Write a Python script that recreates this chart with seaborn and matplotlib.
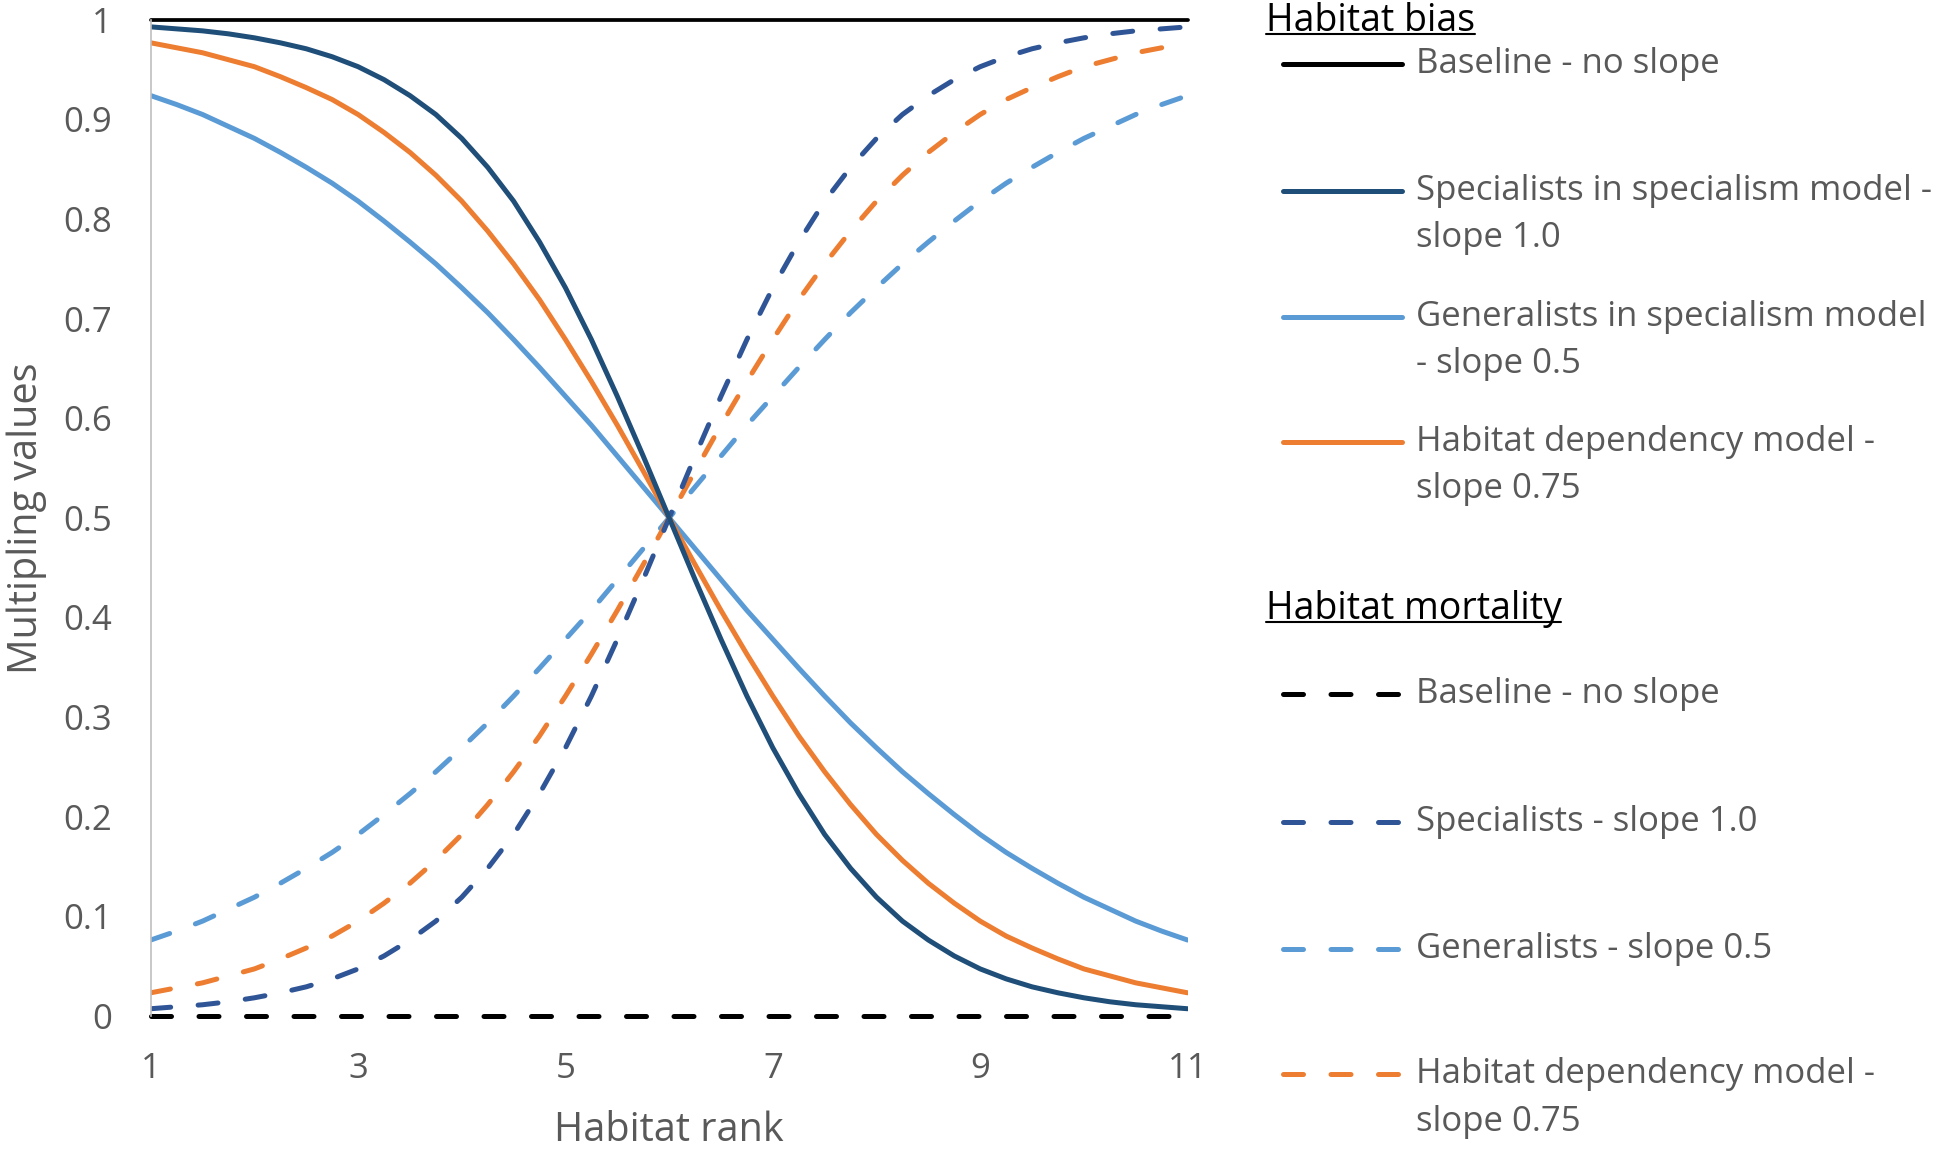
import numpy as np
import pandas as pd
import matplotlib.pyplot as plt
import seaborn as sns
from matplotlib.lines import Line2D

# habitat rank, read at quarter steps so the curves come out smooth
rank = [1, 1.25, 1.5, 1.75, 2, 2.25, 2.5, 2.75, 3, 3.25, 3.5, 3.75, 4, 4.25, 4.5, 4.75,
        5, 5.25, 5.5, 5.75, 6, 6.25, 6.5, 6.75, 7, 7.25, 7.5, 7.75, 8, 8.25, 8.5, 8.75,
        9, 9.25, 9.5, 9.75, 10, 10.25, 10.5, 10.75, 11]

# habitat bias curves
spec_bias = [0.993, 0.991, 0.989, 0.986, 0.982, 0.977, 0.971, 0.963, 0.953, 0.940, 0.924,
             0.905, 0.881, 0.852, 0.818, 0.777, 0.731, 0.679, 0.622, 0.562, 0.5,
             0.438, 0.378, 0.321, 0.269, 0.223, 0.182, 0.148, 0.119, 0.095, 0.076,
             0.060, 0.047, 0.037, 0.029, 0.023, 0.018, 0.014, 0.011, 0.009, 0.007]
gen_bias = [0.924, 0.915, 0.905, 0.893, 0.881, 0.867, 0.852, 0.836, 0.818, 0.798, 0.777,
            0.755, 0.731, 0.706, 0.679, 0.651, 0.622, 0.593, 0.562, 0.531, 0.5,
            0.469, 0.438, 0.407, 0.378, 0.349, 0.321, 0.294, 0.269, 0.245, 0.223,
            0.202, 0.182, 0.164, 0.148, 0.133, 0.119, 0.107, 0.095, 0.085, 0.076]
hd_bias = [0.977, 0.972, 0.967, 0.960, 0.953, 0.943, 0.932, 0.920, 0.905, 0.887, 0.867,
           0.844, 0.818, 0.788, 0.755, 0.719, 0.679, 0.637, 0.593, 0.547, 0.5,
           0.453, 0.407, 0.363, 0.321, 0.281, 0.245, 0.212, 0.182, 0.156, 0.133,
           0.113, 0.095, 0.080, 0.068, 0.057, 0.047, 0.040, 0.033, 0.028, 0.023]

# habitat mortality curves
spec_mort = [0.007, 0.009, 0.011, 0.014, 0.018, 0.023, 0.029, 0.037, 0.047, 0.060, 0.076,
             0.095, 0.119, 0.148, 0.182, 0.223, 0.269, 0.321, 0.378, 0.438, 0.5,
             0.562, 0.622, 0.679, 0.731, 0.777, 0.818, 0.852, 0.881, 0.905, 0.924,
             0.940, 0.953, 0.963, 0.971, 0.977, 0.982, 0.986, 0.989, 0.991, 0.993]
gen_mort = [0.076, 0.085, 0.095, 0.107, 0.119, 0.133, 0.148, 0.164, 0.182, 0.202, 0.223,
            0.245, 0.269, 0.294, 0.321, 0.349, 0.378, 0.407, 0.438, 0.469, 0.5,
            0.531, 0.562, 0.593, 0.622, 0.651, 0.679, 0.706, 0.731, 0.755, 0.777,
            0.798, 0.818, 0.836, 0.852, 0.867, 0.881, 0.893, 0.905, 0.915, 0.924]
hd_mort = [0.023, 0.028, 0.033, 0.040, 0.047, 0.057, 0.068, 0.080, 0.095, 0.113, 0.133,
           0.156, 0.182, 0.212, 0.245, 0.281, 0.321, 0.363, 0.407, 0.453, 0.5,
           0.547, 0.593, 0.637, 0.679, 0.719, 0.755, 0.788, 0.818, 0.844, 0.867,
           0.887, 0.905, 0.920, 0.932, 0.943, 0.953, 0.960, 0.967, 0.972, 0.977]

# baselines
base_x = [1, 11]
base_bias = [1, 1]
base_mort = [0, 0]

xticks = [1, 3, 5, 7, 9, 11]
yticks = [0, 0.1, 0.2, 0.3, 0.4, 0.5, 0.6, 0.7, 0.8, 0.9, 1]
yticklabels = ["0", "0.1", "0.2", "0.3", "0.4", "0.5", "0.6", "0.7", "0.8", "0.9", "1"]

sns.set_style("white")
plt.rcParams['font.family'] = ['Open Sans', 'DejaVu Sans']

grey = '#595959'
navy = '#1F4E79'
blue2 = '#2F5597'
lblue = '#5B9BD5'
orange = '#ED7D31'
lw = 3.6
dash = (0, (4, 5.5))
fs_leg = 25
fs_title = 27
fs_tick = 25
fs_lab = 28.5

fig = plt.figure(figsize=(19.5, 11.64), dpi=100)
ax = fig.add_axes([0.0773, 1 - 0.8726, 0.609 - 0.0773, 0.8726 - 0.0171])

# mortality (dashed)
sns.lineplot(x=rank, y=gen_mort, ax=ax, color=lblue, lw=lw, linestyle=dash, dash_capstyle='round')
sns.lineplot(x=rank, y=hd_mort, ax=ax, color=orange, lw=lw, linestyle=dash, dash_capstyle='round')
sns.lineplot(x=rank, y=spec_mort, ax=ax, color=blue2, lw=lw, linestyle=dash, dash_capstyle='round')
sns.lineplot(x=base_x, y=base_mort, ax=ax, color='black', lw=lw, linestyle=dash,
             dash_capstyle='round', clip_on=False)

# bias (solid)
sns.lineplot(x=rank, y=gen_bias, ax=ax, color=lblue, lw=lw, solid_capstyle='round')
sns.lineplot(x=rank, y=hd_bias, ax=ax, color=orange, lw=lw, solid_capstyle='round')
sns.lineplot(x=rank, y=spec_bias, ax=ax, color=navy, lw=lw, solid_capstyle='round')
sns.lineplot(x=base_x, y=base_bias, ax=ax, color='black', lw=lw * 0.75, clip_on=False)

ax.set_xlim(1, 11)
ax.set_ylim(0, 1)
ax.set_xticks(xticks)
ax.set_xticklabels([str(t) for t in xticks])
ax.set_yticks(yticks)
ax.set_yticklabels(yticklabels)
ax.tick_params(axis='both', length=0, labelsize=fs_tick, labelcolor=grey)
ax.tick_params(axis='y', pad=28)
ax.tick_params(axis='x', pad=26)
for s in ['top', 'right', 'bottom']:
    ax.spines[s].set_visible(False)
ax.spines['left'].set_color('#BFBFBF')
ax.spines['left'].set_linewidth(1.2)
ax.set_xlabel("Habitat rank", fontsize=fs_lab, color=grey)
ax.set_ylabel("Multipling values", fontsize=fs_lab, color=grey)
ax.yaxis.set_label_coords(-0.1, 0.5)
ax.xaxis.set_label_coords(0.5, -0.095)

# legend drawn by hand, two groups with underlined titles
hx0, hx1, tx = 0.658, 0.719, 0.726
gap = 0.0405
titles = [("Habitat bias", 0.982), ("Habitat mortality", 0.477)]
entries = [
    ('black', '-', ["Baseline - no slope"], 0.9454),
    (navy, '-', ["Specialists in specialism model -", "slope 1.0"], 0.836),
    (lblue, '-', ["Generalists in specialism model", "- slope 0.5"], 0.728),
    (orange, '-', ["Habitat dependency model -", "slope 0.75"], 0.620),
    ('black', dash, ["Baseline - no slope"], 0.404),
    (blue2, dash, ["Specialists - slope 1.0"], 0.294),
    (lblue, dash, ["Generalists - slope 0.5"], 0.185),
    (orange, dash, ["Habitat dependency model -", "slope 0.75"], 0.077),
]
for col, ls, lines, y in entries:
    fig.add_artist(Line2D([hx0, hx1], [y, y], color=col, lw=lw, linestyle=ls,
                          solid_capstyle='round', dash_capstyle='round'))
    for i, lab in enumerate(lines):
        fig.text(tx, y - i * gap, lab, fontsize=fs_leg, color=grey, va='center')

title_objs = []
for lab, y in titles:
    title_objs.append(fig.text(0.649, y, lab, fontsize=fs_title, color='black', va='center'))

fig.canvas.draw()
r = fig.canvas.get_renderer()
for t in title_objs:
    bb = t.get_window_extent(r).transformed(fig.transFigure.inverted())
    fig.add_artist(Line2D([bb.x0, bb.x1], [bb.y0 + 0.005, bb.y0 + 0.005], color='black', lw=1.5))

fig.savefig("out.png", dpi=100)
